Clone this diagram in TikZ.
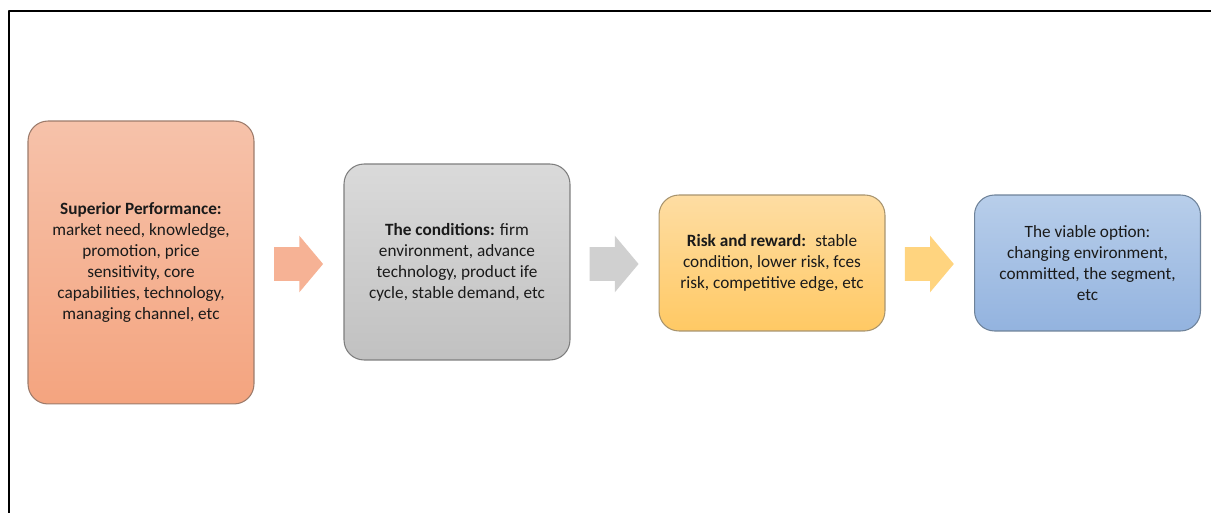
\documentclass[tikz,border=0pt]{standalone}
\usepackage{fontspec}
\setmainfont{Carlito}
\usepackage{tikz}
\usetikzlibrary{calc}
\usetikzlibrary{positioning}
\usetikzlibrary{shapes.arrows}

\definecolor{orgtop}{HTML}{F6C2AA}
\definecolor{orgbot}{HTML}{F4A47F}
\definecolor{orgline}{HTML}{9C7B6B}
\definecolor{orgarrow}{HTML}{F6B295}
\definecolor{grytop}{HTML}{DADADA}
\definecolor{grybot}{HTML}{C1C1C1}
\definecolor{gryline}{HTML}{7E7E7E}
\definecolor{gryarrow}{HTML}{D0D0D0}
\definecolor{ylwtop}{HTML}{FEDDA3}
\definecolor{ylwbot}{HTML}{FFC964}
\definecolor{ylwline}{HTML}{A8946E}
\definecolor{ylwarrow}{HTML}{FFD47F}
\definecolor{blutop}{HTML}{B8CEEA}
\definecolor{blubot}{HTML}{93B3DF}
\definecolor{bluline}{HTML}{6E8299}
\definecolor{txt}{HTML}{1A1A1A}

\tikzset{
  stage/.style={rounded corners=0.4cm, minimum width=4.52cm, align=center,
    text=txt, inner sep=2pt, line width=0.6pt,
    font=\fontsize{9.8pt}{11.9pt}\selectfont},
  blockarrow/.style={single arrow, minimum height=0.98cm, inner xsep=0pt,
    inner ysep=0.33cm, single arrow head extend=0.23cm, single arrow tip angle=100,
    draw=none, xshift=-0.15cm}
}

\begin{document}
\begin{tikzpicture}[x=0.02cm, y=-0.02cm, line cap=round, line join=round]
  \useasboundingbox (0,0) rectangle (1211,513);
  %--- Frame
    \draw[line width=0.8pt] (9,513) -- (9,11) -- (1211,11);
  %--- Superior performance
    \node[stage, minimum height=5.66cm, draw=orgline, top color=orgtop, bottom color=orgbot]
      (perf) at (141,262.5)
      {\textbf{Superior Performance:}\\ market need, knowledge,\\ promotion, price\\
       sensitivity, core\\ capabilities, technology,\\ managing channel, etc};
  %--- The conditions
    \node[stage, minimum height=3.92cm, draw=gryline, top color=grytop, bottom color=grybot]
      (cond) at (457,262)
      {\textbf{The conditions:} firm\\ environment, advance\\ technology, product ife\\
       cycle, stable demand, etc};
  %--- Risk and reward
    \node[stage, minimum height=2.72cm, draw=ylwline, top color=ylwtop, bottom color=ylwbot]
      (risk) at (772,263)
      {\textbf{Risk and reward:}~ stable\\ condition, lower risk, fces\\ risk, competitive edge, etc};
  %--- The viable option
    \node[stage, minimum height=2.72cm, draw=bluline, top color=blutop, bottom color=blubot]
      (viable) at (1087.5,263)
      {The viable option:\\ changing environment,\\ committed, the segment,\\ etc};
  %--- Arrows
    \node[blockarrow, fill=orgarrow] (arr1) at ($(perf.east |- 0,264)!0.5!(cond.west |- 0,264)$) {};
    \node[blockarrow, fill=gryarrow] (arr2) at ($(cond.east |- 0,264)!0.5!(risk.west |- 0,264)$) {};
    \node[blockarrow, fill=ylwarrow] (arr3) at ($(risk.east |- 0,264)!0.5!(viable.west |- 0,264)$) {};
\end{tikzpicture}
\end{document}
